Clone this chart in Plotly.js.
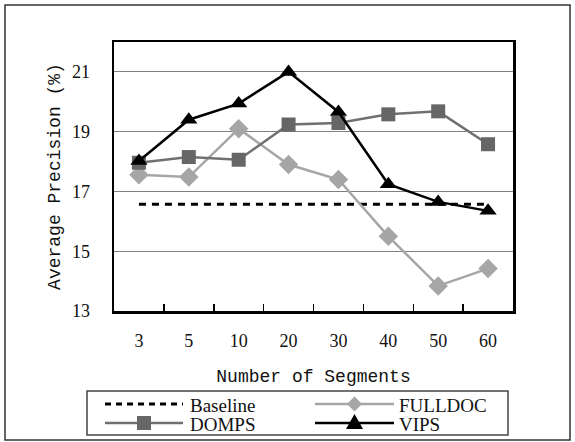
<!DOCTYPE html>
<html><head><meta charset="utf-8">
<script src="https://cdn.plot.ly/plotly-3.0.1.min.js"></script>
<style>html,body{margin:0;padding:0;background:#fff}</style>
</head><body>
<div id="chart" style="width:575px;height:442px"></div>
<script>
// ---- data ----
const segments = ['3', '5', '10', '20', '30', '40', '50', '60'];
const baseline = [16.57, 16.57, 16.57, 16.57, 16.57, 16.57, 16.57, 16.57];
const fulldoc  = [17.56, 17.48, 19.10, 17.90, 17.40, 15.50, 13.84, 14.42];
const domps    = [17.96, 18.15, 18.06, 19.24, 19.29, 19.58, 19.68, 18.58];
const vips     = [18.02, 19.40, 19.94, 21.00, 19.66, 17.24, 16.65, 16.35];
const yTicks   = [13, 15, 17, 19, 21];
const seriesNames = ['Baseline', 'FULLDOC', 'DOMPS', 'VIPS'];

// ---- geometry ----
const W = 575, H = 442;
const L = 114, R = 513, T = 42, B = 311;
const px = v => (v - L) / (R - L);
const py = v => (B - v) / (B - T);

const SERIF = 'Times New Roman';
const MONO = 'Courier New';

const styles = {
  Baseline: {line: {color: '#000', width: 3, dash: '7px,6px'}, marker: null},
  FULLDOC:  {line: {color: '#a6a6a6', width: 2.5}, marker: {symbol: 'diamond', size: 15, color: '#a6a6a6'}},
  DOMPS:    {line: {color: '#707070', width: 2.5}, marker: {symbol: 'square', size: 14, color: '#666666'}},
  VIPS:     {line: {color: '#000', width: 2.5}, marker: {symbol: 'triangle-up', size: 15, color: '#000'}}
};
const values = {Baseline: baseline, FULLDOC: fulldoc, DOMPS: domps, VIPS: vips};

const traces = seriesNames.map(n => {
  const s = styles[n];
  const t = {type: 'scatter', name: n, x: segments, y: values[n],
             mode: s.marker ? 'lines+markers' : 'lines', line: s.line, showlegend: false,
             hoverinfo: 'skip'};
  if (s.marker) t.marker = {symbol: s.marker.symbol, size: s.marker.size, color: s.marker.color, line: {width: 0}};
  return t;
});

// ---- manual legend (shapes + annotations) ----
const shapes = [];
const annotations = [];
shapes.push({type: 'rect', xref: 'paper', yref: 'paper', x0: px(5), x1: px(570), y0: py(5), y1: py(440),
             line: {color: '#333', width: 1.5}, fillcolor: 'rgba(0,0,0,0)', layer: 'below'});
shapes.push({type: 'rect', xref: 'paper', yref: 'paper', x0: px(87), x1: px(508), y0: py(391), y1: py(435),
             line: {color: '#444', width: 1.5}, fillcolor: 'rgba(0,0,0,0)'});
const legendPos = {
  Baseline: {x0: 105, x1: 183, y: 404, tx: 188},
  FULLDOC:  {x0: 315, x1: 394, y: 404, tx: 397},
  DOMPS:    {x0: 105, x1: 183, y: 423, tx: 188},
  VIPS:     {x0: 315, x1: 394, y: 423, tx: 397}
};
seriesNames.forEach(n => {
  const p = legendPos[n], s = styles[n];
  shapes.push({type: 'line', xref: 'paper', yref: 'paper', x0: px(p.x0), x1: px(p.x1), y0: py(p.y), y1: py(p.y),
               line: {color: s.line.color, width: s.line.width, dash: s.line.dash ? '6px,5px' : 'solid'}});
  if (s.marker) {
    const cx = (p.x0 + p.x1) / 2, cy = p.y;
    let path;
    if (s.marker.symbol === 'square') {
      const r = 7;
      path = `M${px(cx - r)},${py(cy - r)} L${px(cx + r)},${py(cy - r)} L${px(cx + r)},${py(cy + r)} L${px(cx - r)},${py(cy + r)} Z`;
    } else if (s.marker.symbol === 'diamond') {
      const r = 7.5;
      path = `M${px(cx)},${py(cy - r)} L${px(cx + r)},${py(cy)} L${px(cx)},${py(cy + r)} L${px(cx - r)},${py(cy)} Z`;
    } else {
      path = `M${px(cx)},${py(cy - 9)} L${px(cx + 8.5)},${py(cy + 6)} L${px(cx - 8.5)},${py(cy + 6)} Z`;
    }
    shapes.push({type: 'path', xref: 'paper', yref: 'paper', path: path,
                 fillcolor: s.marker.color, line: {width: 0}});
  }
  annotations.push({xref: 'paper', yref: 'paper', x: px(p.tx), y: py(p.y + 1), xanchor: 'left', yanchor: 'middle',
                    text: n, showarrow: false,
                    font: {family: SERIF, size: 19, color: '#111'}});
});

const layout = {
  width: W, height: H,
  margin: {l: L, r: W - R, t: T, b: H - B, pad: 0},
  paper_bgcolor: '#fff', plot_bgcolor: '#fff',
  showlegend: false,
  xaxis: {
    type: 'category', categoryorder: 'array', categoryarray: segments,
    range: [-0.5, segments.length - 0.5],
    showline: true, mirror: true, linecolor: '#000', linewidth: 2.5,
    ticks: 'inside', tickson: 'boundaries', ticklen: 7, tickwidth: 1.5, tickcolor: '#000',
    showgrid: false, zeroline: false, ticklabelstandoff: 12,
    tickfont: {family: SERIF, size: 18, color: '#111'},
    title: {text: 'Number of Segments', standoff: 20,
            font: {family: MONO, size: 18, color: '#111'}}
  },
  yaxis: {
    range: [13, 22], tickvals: yTicks, ticktext: yTicks.map(String),
    showline: true, mirror: true, linecolor: '#000', linewidth: 2.5,
    showgrid: true, gridcolor: '#808080', gridwidth: 1, zeroline: false,
    ticks: '', ticklabelstandoff: 18,
    tickfont: {family: SERIF, size: 18, color: '#111'},
    title: {text: 'Average Precision (%)', standoff: 7,
            font: {family: MONO, size: 18, color: '#111'}}
  },
  shapes: shapes,
  annotations: annotations
};

Plotly.newPlot('chart', traces, layout, {staticPlot: true, displayModeBar: false});
</script>
</body></html>
